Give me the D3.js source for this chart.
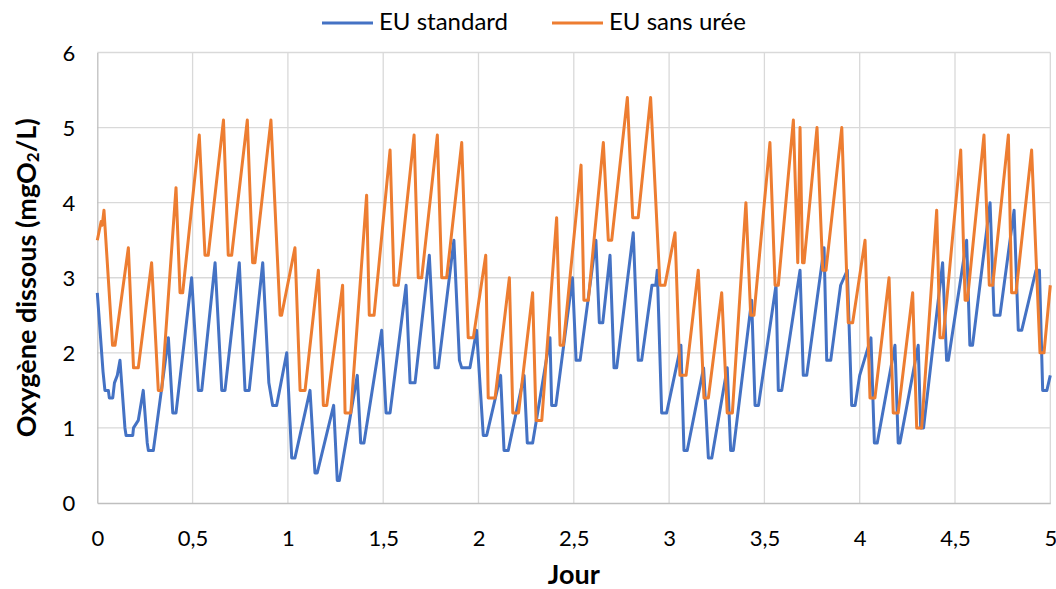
<!DOCTYPE html>
<html>
<head>
<meta charset="utf-8">
<script src="https://cdn.jsdelivr.net/npm/d3@7"></script>
<style>
  html, body { margin: 0; padding: 0; background: #fff; }
  svg { display: block; }
  text { font-family: Lato, "Open Sans", "Liberation Sans", sans-serif; fill: #000; }
</style>
</head>
<body>
<svg id="chart" width="1056" height="589"></svg>
<script>
// Dissolved oxygen over five days, two feeding scenarios (day, mg O2/L)
const seriesNames = ["EU standard", "EU sans urée"];
const seriesColors = ["#4472C4", "#ED7D31"];

const xTicks = [0, 0.5, 1, 1.5, 2, 2.5, 3, 3.5, 4, 4.5, 5];
const yTicks = [0, 1, 2, 3, 4, 5, 6];

const euStandard = [
  [0, 2.8], [0.03, 1.75], [0.04, 1.5], [0.058, 1.5], [0.063, 1.4], [0.081, 1.4],
  [0.09, 1.6], [0.105, 1.7], [0.119, 1.9], [0.145, 1.0], [0.151, 0.9], [0.186, 0.9],
  [0.19, 1.0], [0.215, 1.1], [0.241, 1.5], [0.262, 0.8], [0.268, 0.7], [0.294, 0.7],
  [0.31, 1.0], [0.373, 2.2], [0.396, 1.2], [0.413, 1.2], [0.495, 3.0], [0.53, 1.5],
  [0.548, 1.5], [0.618, 3.2], [0.653, 1.5], [0.67, 1.5], [0.745, 3.2], [0.775, 1.5],
  [0.797, 1.5], [0.868, 3.2], [0.9, 1.6], [0.92, 1.3], [0.941, 1.3], [0.994, 2.0],
  [1.02, 0.6], [1.037, 0.6], [1.116, 1.5], [1.142, 0.4], [1.154, 0.4], [1.24, 1.3],
  [1.259, 0.3], [1.27, 0.3], [1.364, 1.7], [1.382, 0.8], [1.399, 0.8], [1.492, 2.3],
  [1.515, 1.2], [1.536, 1.2], [1.62, 2.9], [1.641, 1.6], [1.667, 1.6], [1.742, 3.3],
  [1.772, 1.8], [1.789, 1.8], [1.871, 3.5], [1.9, 1.9], [1.912, 1.8], [1.955, 1.8],
  [1.99, 2.3], [2.025, 0.9], [2.043, 0.9], [2.116, 1.7], [2.134, 0.7], [2.156, 0.7],
  [2.239, 1.7], [2.256, 0.8], [2.284, 0.8], [2.375, 2.2], [2.384, 1.3], [2.406, 1.3],
  [2.493, 3.0], [2.512, 1.9], [2.533, 1.9], [2.616, 3.5], [2.634, 2.4], [2.652, 2.4],
  [2.69, 3.3], [2.711, 1.8], [2.725, 1.8], [2.812, 3.6], [2.838, 1.9], [2.856, 1.9],
  [2.91, 2.9], [2.93, 2.9], [2.938, 3.1], [2.961, 1.2], [2.987, 1.2], [3.062, 2.1],
  [3.078, 0.7], [3.095, 0.7], [3.181, 1.8], [3.206, 0.6], [3.224, 0.6], [3.305, 1.8],
  [3.323, 0.7], [3.337, 0.7], [3.433, 2.7], [3.451, 1.3], [3.469, 1.3], [3.561, 2.9],
  [3.573, 1.5], [3.591, 1.5], [3.687, 3.1], [3.704, 1.7], [3.722, 1.7], [3.813, 3.4],
  [3.827, 1.9], [3.848, 1.9], [3.9, 2.9], [3.935, 3.1], [3.958, 1.3], [3.976, 1.3],
  [4.0, 1.7], [4.059, 2.2], [4.077, 0.8], [4.092, 0.8], [4.185, 2.1], [4.202, 0.8],
  [4.211, 0.8], [4.307, 2.1], [4.32, 1.0], [4.335, 1.0], [4.435, 3.2], [4.456, 1.9],
  [4.465, 1.9], [4.561, 3.5], [4.578, 2.1], [4.592, 2.1], [4.684, 4.0], [4.705, 2.5],
  [4.736, 2.5], [4.81, 3.9], [4.832, 2.3], [4.85, 2.3], [4.925, 3.1], [4.943, 3.1],
  [4.96, 1.5], [4.982, 1.5], [5.0, 1.7]
];

const euSansUree = [
  [0, 3.5], [0.02, 3.75], [0.026, 3.7], [0.035, 3.9], [0.08, 2.1], [0.093, 2.1],
  [0.163, 3.4], [0.19, 1.8], [0.215, 1.8], [0.285, 3.2], [0.32, 1.5], [0.338, 1.5],
  [0.413, 4.2], [0.434, 2.8], [0.448, 2.8], [0.535, 4.9], [0.565, 3.3], [0.582, 3.3],
  [0.662, 5.1], [0.687, 3.3], [0.705, 3.3], [0.787, 5.1], [0.815, 3.2], [0.827, 3.2],
  [0.911, 5.1], [0.959, 2.5], [0.967, 2.5], [1.037, 3.4], [1.064, 1.5], [1.09, 1.5],
  [1.16, 3.1], [1.186, 1.3], [1.204, 1.3], [1.287, 2.9], [1.3, 1.2], [1.33, 1.2],
  [1.413, 4.1], [1.427, 2.5], [1.452, 2.5], [1.536, 4.7], [1.557, 2.9], [1.579, 2.9],
  [1.662, 4.9], [1.684, 3.0], [1.702, 3.0], [1.784, 4.9], [1.807, 3.0], [1.833, 3.0],
  [1.912, 4.8], [1.946, 2.2], [1.973, 2.2], [2.038, 3.3], [2.051, 1.4], [2.087, 1.4],
  [2.162, 3.0], [2.18, 1.2], [2.21, 1.2], [2.284, 2.8], [2.302, 1.1], [2.332, 1.1],
  [2.41, 3.8], [2.428, 2.1], [2.445, 2.1], [2.538, 4.5], [2.553, 2.7], [2.576, 2.7],
  [2.655, 4.8], [2.681, 3.5], [2.699, 3.5], [2.781, 5.4], [2.809, 3.8], [2.838, 3.8],
  [2.903, 5.4], [2.952, 2.9], [2.978, 2.9], [3.031, 3.6], [3.057, 1.7], [3.089, 1.7],
  [3.153, 3.1], [3.183, 1.4], [3.206, 1.4], [3.276, 2.8], [3.305, 1.2], [3.332, 1.2],
  [3.403, 4.0], [3.428, 2.5], [3.445, 2.5], [3.529, 4.8], [3.556, 2.9], [3.573, 2.9],
  [3.652, 5.1], [3.675, 3.2], [3.687, 5.0], [3.7, 3.2], [3.708, 3.2], [3.776, 5.0],
  [3.806, 3.1], [3.823, 3.1], [3.906, 5.0], [3.94, 2.4], [3.963, 2.4], [4.028, 3.5],
  [4.054, 1.4], [4.08, 1.4], [4.154, 3.0], [4.176, 1.2], [4.202, 1.2], [4.278, 2.8],
  [4.299, 1.0], [4.325, 1.0], [4.404, 3.9], [4.421, 2.2], [4.438, 2.2], [4.53, 4.7],
  [4.553, 2.7], [4.565, 2.7], [4.652, 4.9], [4.68, 2.9], [4.698, 2.9], [4.78, 4.9],
  [4.797, 2.8], [4.82, 2.8], [4.902, 4.7], [4.946, 2.0], [4.967, 2.0], [5.0, 2.9]
];

const svg = d3.select("#chart");
const margin = { left: 97.3, right: 1056 - 1050.3, top: 52.5, bottom: 589 - 503 };
const W = 1056, H = 589;

const x = d3.scaleLinear().domain([0, 5]).range([margin.left, W - margin.right]);
const y = d3.scaleLinear().domain([0, 6]).range([H - margin.bottom, margin.top]);

const fmt = d => String(d).replace(".", ",");

// gridlines
const grid = svg.append("g");
grid.selectAll("line.h").data(yTicks.filter(d => d > 0)).join("line")
  .attr("x1", x(0)).attr("x2", x(5))
  .attr("y1", d => y(d)).attr("y2", d => y(d))
  .attr("stroke", "#d9d9d9").attr("stroke-width", 1.3);
grid.selectAll("line.v").data(xTicks.filter(d => d > 0)).join("line")
  .attr("y1", y(0)).attr("y2", y(6))
  .attr("x1", d => x(d)).attr("x2", d => x(d))
  .attr("stroke", "#d9d9d9").attr("stroke-width", 1.3);

// axes
const xAxis = svg.append("g").attr("transform", `translate(0,${y(0)})`)
  .call(d3.axisBottom(x).tickValues(xTicks).tickFormat(fmt).tickSize(0));
const yAxis = svg.append("g").attr("transform", `translate(${x(0)},0)`)
  .call(d3.axisLeft(y).tickValues(yTicks).tickFormat(fmt).tickSize(0).tickPadding(22));
[xAxis, yAxis].forEach(a => {
  a.select(".domain").attr("stroke", "#bfbfbf").attr("stroke-width", 1.3);
  a.selectAll("text").attr("font-size", 22).attr("font-family", "Lato, 'Open Sans', sans-serif").attr("fill", "#000");
});
yAxis.selectAll("text").attr("dy", "0.35em");
xAxis.selectAll("text").attr("dy", "0.35em").attr("y", 35);

// series
const line = d3.line().x(d => x(d[0])).y(d => y(d[1]));
const allSeries = [euStandard, euSansUree];
svg.append("g").selectAll("path").data(allSeries).join("path")
  .attr("d", line)
  .attr("fill", "none")
  .attr("stroke", (d, i) => seriesColors[i])
  .attr("stroke-width", 3)
  .attr("stroke-linejoin", "round");

// axis titles
svg.append("text")
  .attr("x", (x(0) + x(5)) / 2).attr("y", 577)
  .attr("text-anchor", "middle").attr("dominant-baseline", "middle")
  .attr("font-size", 27).attr("font-weight", "bold")
  .text("Jour");

const yt = svg.append("text")
  .attr("transform", `translate(29,${(y(0) + y(6)) / 2}) rotate(-90)`)
  .attr("text-anchor", "middle").attr("dominant-baseline", "middle")
  .attr("font-size", 27).attr("font-weight", "bold");
yt.append("tspan").text("Oxygène dissous (mgO");
yt.append("tspan").attr("font-size", 17).attr("dy", 6).text("2");
yt.append("tspan").attr("dy", -6).text("/L)");

// legend
const legendX = [322, 552];
const lg = svg.append("g");
seriesNames.forEach((name, i) => {
  lg.append("line")
    .attr("x1", legendX[i]).attr("x2", legendX[i] + 51)
    .attr("y1", 23).attr("y2", 23)
    .attr("stroke", seriesColors[i]).attr("stroke-width", 3);
  lg.append("text")
    .attr("x", legendX[i] + 57).attr("y", 24)
    .attr("dominant-baseline", "middle")
    .attr("font-size", 24)
    .text(name);
});
</script>
</body>
</html>
